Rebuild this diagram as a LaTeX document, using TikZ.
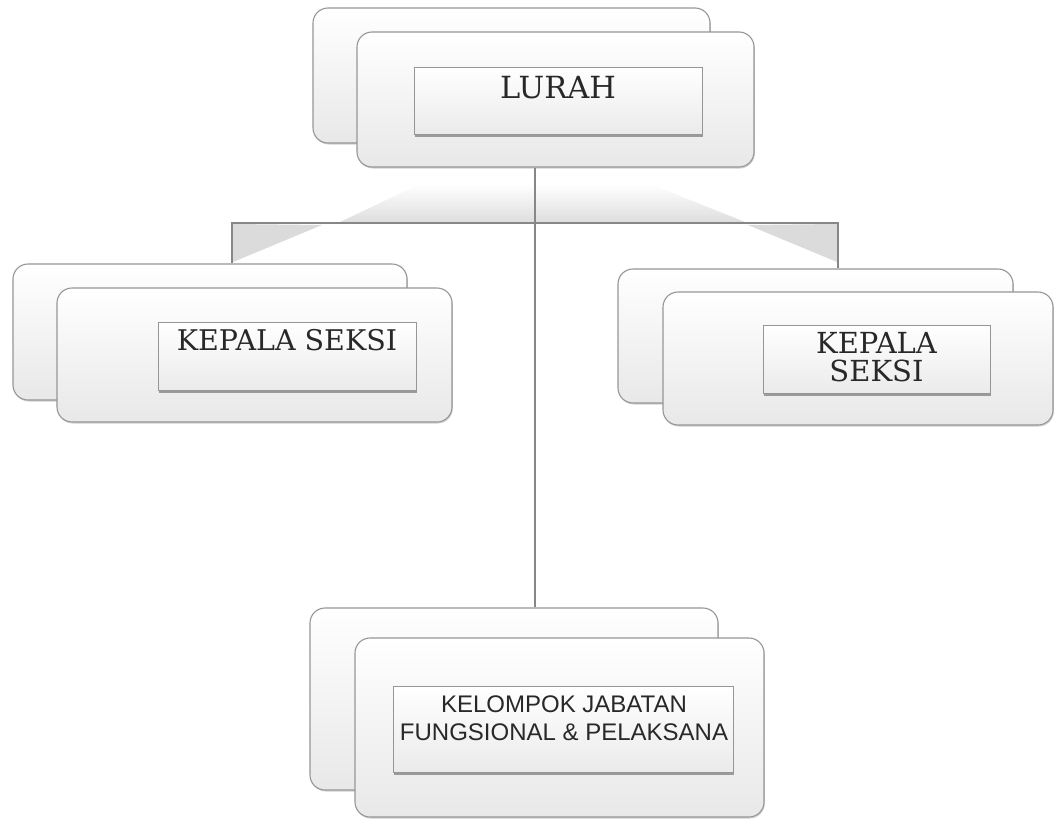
\documentclass[tikz,border=0pt]{standalone}
\usepackage{fontspec}
\setmainfont{DejaVu Serif}
\newfontfamily\sansf{Liberation Sans}
\usetikzlibrary{shadows}

\definecolor{edgegray}{RGB}{150,150,150}
\definecolor{linegray}{RGB}{135,135,135}
\definecolor{textgray}{RGB}{40,40,40}

\tikzset{
  cardback/.style={draw=edgegray, line width=1.1pt, rounded corners=15pt,
    top color=white, bottom color=black!9,
    drop shadow={shadow xshift=0.8pt, shadow yshift=-1.5pt, opacity=0.18, fill=black},
    inner sep=0pt},
  cardfront/.style={cardback},
  titlebox/.style={draw=edgegray, line width=1pt,
    top color=white, bottom color=black!8,
    drop shadow={shadow xshift=0.6pt, shadow yshift=-2.5pt, opacity=0.35, fill=black},
    inner sep=0pt},
  serifname/.style={text=textgray, align=center, inner sep=0pt},
  sansname/.style={text=textgray, align=center, inner sep=0pt, font=\sansf\fontsize{24}{28}\selectfont},
  orgline/.style={draw=linegray, line width=1.2pt},
  wedge/.style={draw=none, fill=black!14}
}

\begin{document}
\begin{tikzpicture}[x=1pt, y=-1pt]
  % page frame
  \fill[white] (0,0) rectangle (1055,819);
  \useasboundingbox (0,0) rectangle (1055,819);

  % hub of the branch connector
  \coordinate (hub) at (535,223);
  \coordinate (barL) at (232,223);
  \coordinate (barR) at (838,223);

  % soft shading around the branch bar
  \path[top color=white, bottom color=black!13, draw=none]
    (340,222) -- (420,184) -- (650,184) -- (745,222) -- cycle;
  \path[wedge] (233,224) -- (322,225) -- (233,262) -- cycle;
  \path[wedge] (748,225) -- (837,224) -- (837,262) -- cycle;

  % LURAH
  \node[cardback,  minimum width=397pt, minimum height=135pt] (lurahB) at (511.5,75.5) {};
  \node[cardfront, minimum width=397pt, minimum height=135pt] (lurahF) at (555.5,99.5) {};
  \node[titlebox,  minimum width=288pt, minimum height=67pt]  (lurahT) at (558,100.5) {};
  \node[serifname, font=\fontsize{30.5}{34}\selectfont] (lurah) at (558,88) {LURAH};

  % KEPALA SEKSI (left)
  \node[cardback,  minimum width=394pt, minimum height=136pt] (kiriB) at (210,332) {};
  \node[cardfront, minimum width=395pt, minimum height=134pt] (kiriF) at (254.5,355) {};
  \node[titlebox,  minimum width=258pt, minimum height=68pt]  (kiriT) at (287,356) {};
  \node[serifname, font=\fontsize{28.5}{30}\selectfont] (kiri) at (287,340) {KEPALA SEKSI};

  % KEPALA SEKSI (right)
  \node[cardback,  minimum width=395pt, minimum height=134pt] (kananB) at (815.5,336) {};
  \node[cardfront, minimum width=390pt, minimum height=133pt] (kananF) at (858,358.5) {};
  \node[titlebox,  minimum width=227pt, minimum height=68pt]  (kananT) at (876.5,359) {};
  \node[serifname, font=\fontsize{29}{28}\selectfont] (kanan) at (876.5,357) {KEPALA\\SEKSI};

  % KELOMPOK JABATAN FUNGSIONAL & PELAKSANA
  \node[cardback,  minimum width=408pt, minimum height=182pt] (fungB) at (514,699) {};
  \node[cardfront, minimum width=409pt, minimum height=179pt] (fungF) at (559.5,727.5) {};
  \node[titlebox,  minimum width=340pt, minimum height=86pt]  (fungT) at (563,729) {};
  \node[sansname] (fung) at (564,718) {KELOMPOK JABATAN\\FUNGSIONAL \& PELAKSANA};

  % connectors
  \draw[orgline] (lurahF.south -| hub) -- (fungB.north -| hub);
  \draw[orgline] (barL |- kiriB.north) -- (barL) -- (barR) -- (barR |- kananB.north);
\end{tikzpicture}
\end{document}
